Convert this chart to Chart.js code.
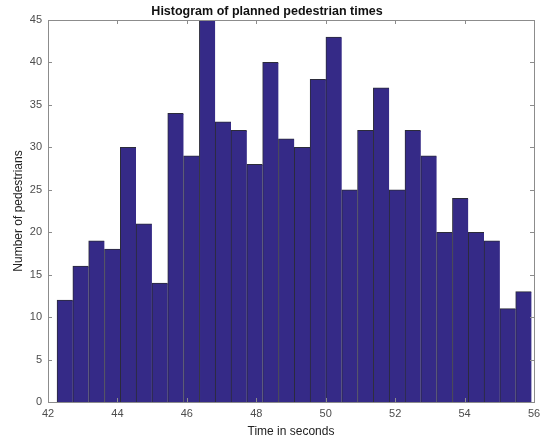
<!DOCTYPE html>
<html>
<head>
<meta charset="utf-8">
<script src="https://cdn.jsdelivr.net/npm/chart.js@4/dist/chart.umd.min.js"></script>
<style>
  html, body { margin:0; padding:0; background:#fff; }
  #wrap { width:541px; height:439px; }
</style>
</head>
<body>
<div id="wrap"><canvas id="histChart" width="541" height="439"></canvas></div>
<script>
// histogram bins (centres, seconds) and counts
const binCenters = [42.488, 42.943, 43.399, 43.855, 44.310, 44.766, 45.222, 45.677, 46.133, 46.588,
                    47.044, 47.500, 47.955, 48.411, 48.866, 49.322, 49.778, 50.233, 50.689, 51.144,
                    51.600, 52.056, 52.511, 52.967, 53.422, 53.878, 54.334, 54.789, 55.245, 55.700];
const counts = [12, 16, 19, 18, 30, 21, 14, 34, 29, 45,
                33, 32, 28, 40, 31, 30, 38, 43, 25, 32,
                37, 25, 32, 29, 20, 24, 20, 19, 11, 13];
const xTicks = [42, 44, 46, 48, 50, 52, 54, 56];
const yTicks = [0, 5, 10, 15, 20, 25, 30, 35, 40, 45];

const titleText = 'Histogram of planned pedestrian times';
const xLabel = 'Time in seconds';
const yLabel = 'Number of pedestrians';

const FONT = 'Liberation Sans, Arial, Helvetica, sans-serif';
const axisGrey = '#8c8c8c';

// box round the plot plus small inward tick marks (octave style)
const boxTicks = {
  id: 'boxTicks',
  afterDraw(chart){
    const {ctx, chartArea:a, scales:{x, y}} = chart;
    ctx.save();
    ctx.strokeStyle = axisGrey;
    ctx.lineWidth = 1;
    ctx.strokeRect(Math.round(a.left)+0.5, Math.round(a.top)+0.5, Math.round(a.right-a.left), Math.round(a.bottom-a.top));
    ctx.beginPath();
    for(const v of xTicks){
      const px = Math.round(x.getPixelForValue(v))+0.5;
      ctx.moveTo(px, a.bottom); ctx.lineTo(px, a.bottom-4);
      ctx.moveTo(px, a.top); ctx.lineTo(px, a.top+4);
    }
    for(const v of yTicks){
      const py = Math.round(y.getPixelForValue(v))+0.5;
      ctx.moveTo(a.left, py); ctx.lineTo(a.left+4, py);
      ctx.moveTo(a.right, py); ctx.lineTo(a.right-4, py);
    }
    ctx.stroke();
    ctx.restore();
  }
};

const ctx = document.getElementById('histChart').getContext('2d');
const chart = new Chart(ctx, {
  type: 'bar',
  data: {
    datasets: [{
      label: 'pedestrians',
      data: binCenters.map((c, i) => ({x: c, y: counts[i]})),
      backgroundColor: '#352a87',
      borderColor: '#2b2b3a',
      borderWidth: {top:1, left:1, right:0, bottom:0},
      borderSkipped: false,
      barPercentage: 1,
      categoryPercentage: 1
    }]
  },
  options: {
    responsive: false,
    animation: false,
    layout: { padding: {left:0, right:7, top:0, bottom:0} },
    plugins: {
      legend: { display:false },
      tooltip: { enabled:false },
      title: {
        display: true,
        text: titleText,
        color: '#111',
        font: { family: FONT, size: 12.5, weight: 'bold' },
        padding: { top: 4, bottom: 1 }
      }
    },
    scales: {
      x: {
        type: 'linear',
        offset: false,
        min: 42, max: 56,
        afterBuildTicks: s => { s.ticks = xTicks.map(v => ({value:v})); },
        afterFit: s => { s.height = 37; s.paddingLeft = 0; s.paddingRight = 0; },
        grid: { display:false, drawTicks:false },
        border: { display:false },
        ticks: { color:'#4d4d4d', font:{family:FONT, size:11}, padding:5, maxRotation:0 },
        title: { display:true, text:xLabel, color:'#222', font:{family:FONT, size:12}, padding:{top:2, bottom:0} }
      },
      y: {
        min: 0, max: 45,
        afterBuildTicks: s => { s.ticks = yTicks.map(v => ({value:v})); },
        afterFit: s => { s.width = 48; },
        grid: { display:false, drawTicks:false },
        border: { display:false },
        ticks: { color:'#4d4d4d', font:{family:FONT, size:11}, padding:6 },
        title: { display:true, text:yLabel, color:'#222', font:{family:FONT, size:12}, padding:{top:11, bottom:0} }
      }
    }
  },
  plugins: [boxTicks]
});
</script>
</body>
</html>
